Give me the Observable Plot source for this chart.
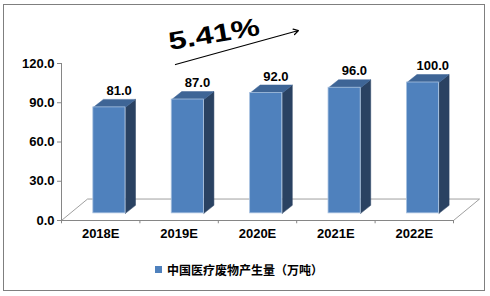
<!DOCTYPE html>
<html>
<head>
<meta charset="utf-8">
<script src="https://cdn.jsdelivr.net/npm/d3@7"></script>
<script src="https://cdn.jsdelivr.net/npm/@observablehq/plot@0.6"></script>
<style>
  html, body { margin: 0; padding: 0; background: #fff; }
  #wrap { position: relative; width: 490px; height: 296px; overflow: hidden; }
  #frame { position: absolute; left: 3px; top: 4px; width: 482px; height: 287px; border: 1px solid #7f7f7f; box-sizing: border-box; pointer-events: none; }
  #chart { position: absolute; left: 0; top: 0; }
  #legend { position: absolute; left: 155px; top: 260px; height: 18px; display: flex; align-items: center;
            font-family: "Noto Sans CJK SC", sans-serif; font-weight: bold; font-size: 12px; color: #000; }
  #legend .sw { width: 7px; height: 7px; background: #4F81BD; margin-right: 5px; }
</style>
</head>
<body>
<div id="wrap">
  <div id="chart"></div>
  <div id="legend"><span class="sw"></span><span id="legendText"></span></div>
  <div id="frame"></div>
</div>
<script>
// ---- data ----
const categories = ["2018E", "2019E", "2020E", "2021E", "2022E"];
const values = [81.0, 87.0, 92.0, 96.0, 100.0];
const yTicks = [0, 30, 60, 90, 120];
const seriesName = "中国医疗废物产生量（万吨）";
const growthLabel = ["5.41%"];

// ---- 3D geometry (in data units) ----
const G = { dxF: 0.332, dyF: 16.4, half: 0.205, dx1: 0.111, dy1: 5.47, dxB: 0.128, dyB: 6.1 };
const colors = { front: "#4F81BD", top: "#3E6596", side: "#2A4262", edge: "#A9C2E0", grid: "#868686" };

const bars = values.map((v, i) => {
  const c = i + 0.5 + G.dx1;
  return { i, v, cat: categories[i], xl: c - G.half, xr: c + G.half, yb: G.dy1, yt: v + G.dy1 };
});
const sides = bars.flatMap(b => [[b.xr, b.yb], [b.xr, b.yt], [b.xr + G.dxB, b.yt + G.dyB], [b.xr + G.dxB, b.yb + G.dyB], [b.xr, b.yb]]
  .map(([x, y]) => ({ x, y, k: b.i })));
const tops = bars.flatMap(b => [[b.xl, b.yt], [b.xr, b.yt], [b.xr + G.dxB, b.yt + G.dyB], [b.xl + G.dxB, b.yt + G.dyB], [b.xl, b.yt]]
  .map(([x, y]) => ({ x, y, k: b.i })));
const n = categories.length;
const floor = [[0, 0], [n, 0], [n + G.dxF, G.dyF], [G.dxF, G.dyF], [0, 0]].map(([x, y]) => ({ x, y }));
const floorEdges = [[0, 0], [G.dxF, G.dyF], [n + G.dxF, G.dyF], [n, 0]].map(([x, y]) => ({ x, y }));
const boundaries = d3.range(n + 1);
const centers = categories.map((c, i) => ({ x: i + 0.5, label: c }));
const trend = [{ x1: 1.454, y1: 119.2, x2: 3.023, y2: 145.2 }];

const chart = Plot.plot({
  width: 490,
  height: 250,
  marginLeft: 61,
  marginRight: 37,
  marginTop: 63,
  marginBottom: 30,
  x: { domain: [0, n], axis: null },
  y: { domain: [0, 120], axis: null },
  style: { fontFamily: "'Liberation Sans', Arial, sans-serif", fontSize: "13px", fontWeight: "bold", background: "transparent", overflow: "visible" },
  marks: [
    Plot.line(floor, { x: "x", y: "y", fill: "white", stroke: "none" }),
    Plot.line(floorEdges, { x: "x", y: "y", stroke: colors.grid, strokeWidth: 0.8 }),
    Plot.line(sides, { x: "x", y: "y", z: "k", fill: colors.side, stroke: colors.side, strokeWidth: 0.5 }),
    Plot.line(tops, { x: "x", y: "y", z: "k", fill: colors.top, stroke: colors.top, strokeWidth: 0.5 }),
    Plot.rect(bars, { x1: "xl", x2: "xr", y1: "yb", y2: "yt", fill: colors.front, stroke: colors.edge, strokeWidth: 0.8 }),
    Plot.text(bars, { x: d => (d.xl + d.xr) / 2 + G.dxB * 0.5 + 0.06, y: d => d.yt + 9.5, text: d => d.v.toFixed(1), lineAnchor: "bottom", fill: "black", fontSize: 13 }),
    // axes
    Plot.ruleY([0], { x1: 0, x2: n, stroke: colors.grid, strokeWidth: 1 }),
    Plot.ruleX([0], { y1: 0, y2: 120, stroke: colors.grid, strokeWidth: 1 }),
    Plot.ruleX(boundaries, { y1: 0, y2: -2.5, stroke: colors.grid, strokeWidth: 1 }),
    Plot.ruleY(yTicks, { x1: 0, x2: -4 / 78.4, stroke: colors.grid, strokeWidth: 1 }),
    Plot.text(yTicks, { x: 0, y: d => d, text: d => d.toFixed(1), textAnchor: "end", dx: -7, fill: "black", fontSize: 13 }),
    Plot.text(centers, { x: "x", y: 0, text: "label", lineAnchor: "top", dy: 8, fill: "black", fontSize: 13 }),
    // growth arrow
    Plot.arrow(trend, { x1: "x1", y1: "y1", x2: "x2", y2: "y2", stroke: "black", strokeWidth: 1.2, headLength: 7 })
  ]
});
document.getElementById("chart").appendChild(chart);
document.getElementById("legendText").textContent = seriesName;

// growth label (WordArt look: rotated & horizontally stretched)
d3.select(chart).append("text")
  .attr("transform", "translate(170,50) rotate(-9.5) scale(1.3,1)")
  .attr("text-anchor", "start")
  .attr("font-size", 25)
  .attr("font-weight", "bold")
  .attr("font-family", "'Liberation Sans', Arial, sans-serif")
  .attr("fill", "black")
  .text(growthLabel[0]);
</script>
</body>
</html>
